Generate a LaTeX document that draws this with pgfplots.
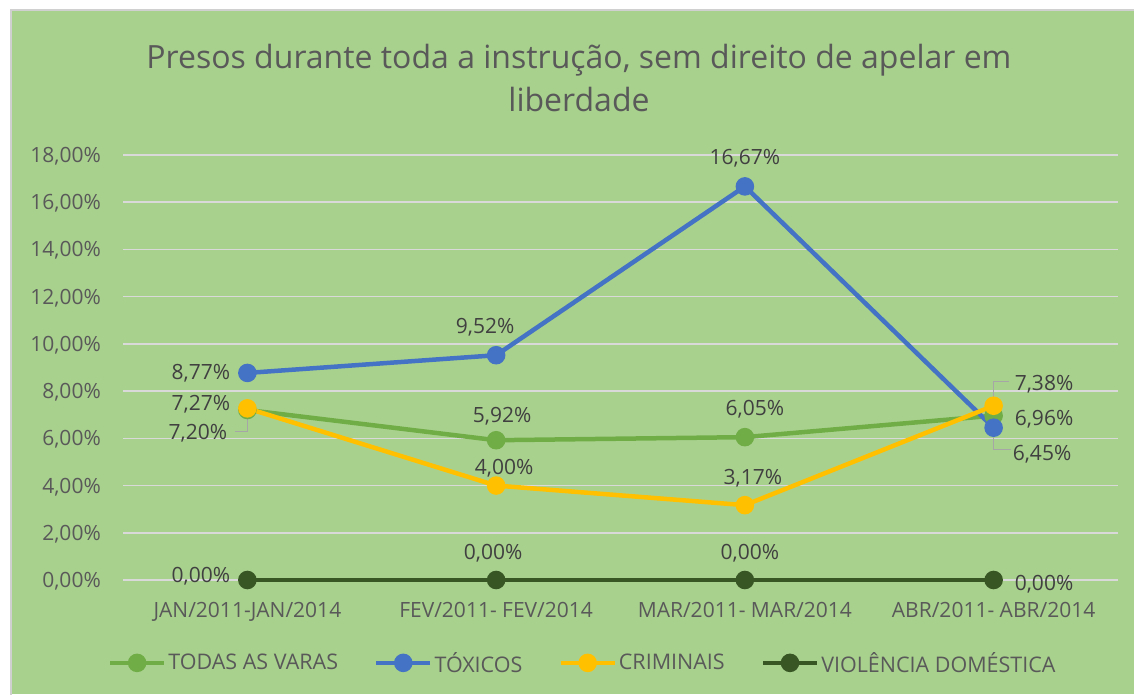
\documentclass[border=0pt]{standalone}
\usepackage{fontspec}
\setmainfont{Open Sans}
\usepackage{pgfplots}
\pgfplotsset{compat=1.18}
\usetikzlibrary{calc}

\definecolor{bgc}{HTML}{A9D18E}
\definecolor{frame}{HTML}{D0D0D0}
\definecolor{gridc}{HTML}{D9D9D9}
\definecolor{axtext}{HTML}{595959}
\definecolor{labtext}{HTML}{404040}
\definecolor{leader}{HTML}{A6A6A6}
\definecolor{cTodas}{HTML}{70AD47}
\definecolor{cTox}{HTML}{4472C4}
\definecolor{cCrim}{HTML}{FFC000}
\definecolor{cViol}{HTML}{375623}

\begin{document}
\begin{tikzpicture}[
  lbl/.style={inner sep=0pt, font=\fontsize{21}{25}\selectfont, text=labtext},
  ld/.style={draw=leader, line width=1pt}
]
\useasboundingbox (0,0) rectangle (1134pt,694pt);
\fill[white] (0,0) rectangle (1134pt,694pt);
\fill[bgc] (11pt,0) rectangle (1134pt,684pt);
\draw[frame, line width=2pt] (11pt,-2pt) -- (11pt,684pt) -- (1136pt,684pt);

\node[align=center, text=axtext, font=\fontsize{32}{43}\selectfont] at (579pt,616pt)
  {Presos durante toda a instrução, sem direito de apelar em\\liberdade};

\begin{axis}[
  at={(123pt,114pt)}, anchor=south west,
  scale only axis, width=995pt, height=425pt,
  xmin=-0.5, xmax=3.5, ymin=0, ymax=18,
  xtick={0,1,2,3},
  xticklabels={JAN/2011-JAN/2014, FEV/2011- FEV/2014, MAR/2011- MAR/2014, ABR/2011- ABR/2014},
  ytick={0,2,...,18},
  yticklabel={\pgfmathprintnumber[fixed,fixed zerofill,precision=2,use comma]{\tick}\%},
  /pgf/number format/assume math mode=true,
  ticklabel style={font=\fontsize{21}{25}\selectfont, text=axtext, inner sep=0pt},
  yticklabel style={anchor=base east, xshift=-22pt, yshift=-7.5pt},
  xticklabel style={anchor=base, yshift=-37pt},
  major tick length=0pt,
  axis line style={draw=none},
  ymajorgrids, grid style={gridc, line width=1.5pt},
  clip=false,
  every axis plot/.append style={line width=4.5pt, mark=*, mark size=7pt, mark options={solid}},
  legend columns=4,
  legend style={at={(axis description cs:0.462,-0.195)}, anchor=center,
    draw=none, fill=none, font=\fontsize{21.5}{25}\selectfont, text=axtext,
    nodes={inner sep=2pt},
    /tikz/every even column/.append style={column sep=34pt}},
  legend image code/.code={\draw[mark repeat=2,mark phase=2,#1] plot coordinates {(0pt,0pt) (27pt,0pt) (54pt,0pt)};},
]
\addplot[cTodas, mark options={fill=cTodas, draw=cTodas}] coordinates {(0,7.20) (1,5.92) (2,6.05) (3,6.96)};
\addlegendentry{TODAS AS VARAS}
\addplot[cTox, mark options={fill=cTox, draw=cTox}] coordinates {(0,8.77) (1,9.52) (2,16.67) (3,6.45)};
\addlegendentry{TÓXICOS}
\addplot[cCrim, mark options={fill=cCrim, draw=cCrim}] coordinates {(0,7.27) (1,4.00) (2,3.17) (3,7.38)};
\addlegendentry{CRIMINAIS}
\addplot[cViol, mark options={fill=cViol, draw=cViol}] coordinates {(0,0) (1,0) (2,0) (3,0)};
\addlegendentry{VIOLÊNCIA DOMÉSTICA}

% leader lines
\draw[ld] (axis cs:0,7.20) -- ++(0pt,-21pt) -- ++(-12pt,0pt);
\draw[ld] (axis cs:3,6.45) -- ++(0pt,-22pt) -- ++(17pt,0pt);
\draw[ld] (axis cs:3,7.38) -- ++(0pt,24pt) -- ++(15pt,0pt);

% data labels
\node[lbl, anchor=base east, xshift=-17pt, yshift=-6.5pt] at (axis cs:0,8.77) {8,77\%};
\node[lbl, anchor=base east, xshift=-17pt, yshift=-2.5pt] at (axis cs:0,7.27) {7,27\%};
\node[lbl, anchor=base east, xshift=-20pt, yshift=-29.5pt] at (axis cs:0,7.20) {7,20\%};
\node[lbl, anchor=base east, xshift=-17pt, yshift=-2.5pt] at (axis cs:0,0) {0,00\%};
\node[lbl, anchor=base, xshift=-11pt, yshift=21.5pt] at (axis cs:1,9.52) {9,52\%};
\node[lbl, anchor=base, xshift=6pt, yshift=17.5pt] at (axis cs:1,5.92) {5,92\%};
\node[lbl, anchor=base, xshift=8pt, yshift=11.5pt] at (axis cs:1,4.00) {4,00\%};
\node[lbl, anchor=base, xshift=-3pt, yshift=20.5pt] at (axis cs:1,0) {0,00\%};
\node[lbl, anchor=base, xshift=0pt, yshift=21.5pt] at (axis cs:2,16.67) {16,67\%};
\node[lbl, anchor=base, xshift=10pt, yshift=21.5pt] at (axis cs:2,6.05) {6,05\%};
\node[lbl, anchor=base, xshift=8pt, yshift=20.5pt] at (axis cs:2,3.17) {3,17\%};
\node[lbl, anchor=base, xshift=5pt, yshift=20.5pt] at (axis cs:2,0) {0,00\%};
\node[lbl, anchor=base west, xshift=21pt, yshift=15.5pt] at (axis cs:3,7.38) {7,38\%};
\node[lbl, anchor=base west, xshift=21pt, yshift=-9.5pt] at (axis cs:3,6.96) {6,96\%};
\node[lbl, anchor=base west, xshift=19pt, yshift=-32.5pt] at (axis cs:3,6.45) {6,45\%};
\node[lbl, anchor=base west, xshift=21pt, yshift=-10.5pt] at (axis cs:3,0) {0,00\%};
\end{axis}
\end{tikzpicture}
\end{document}
